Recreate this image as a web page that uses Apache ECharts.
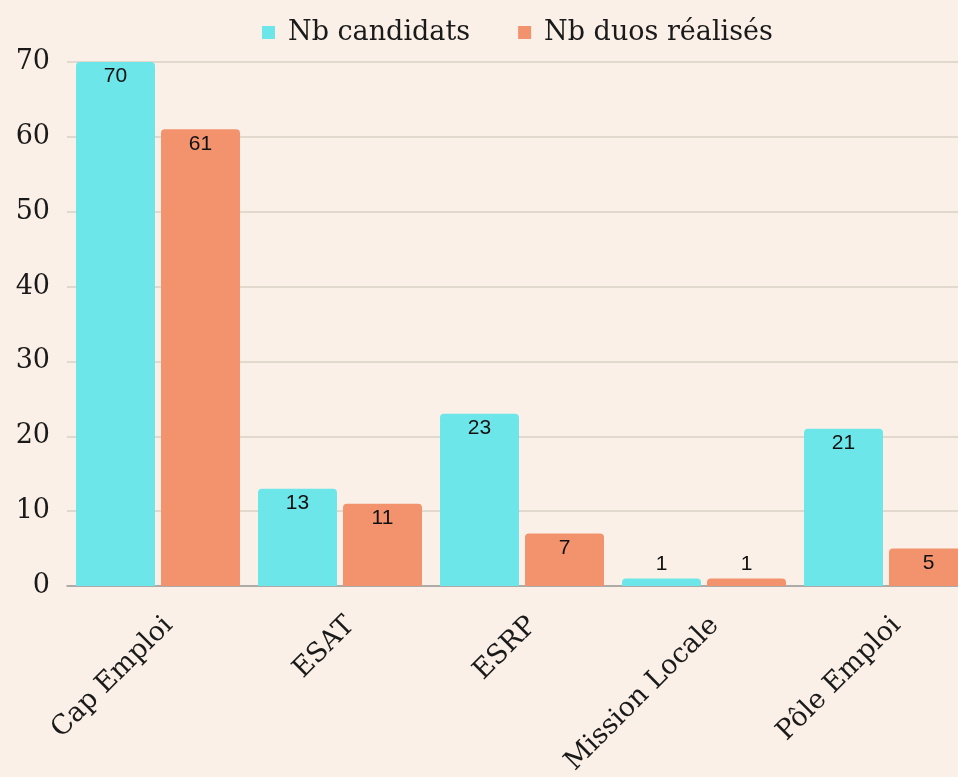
<!DOCTYPE html>
<html>
<head>
<meta charset="utf-8">
<script src="https://cdn.jsdelivr.net/npm/echarts@6/dist/echarts.min.js"></script>
<style>
  html, body { margin: 0; padding: 0; background: #faf0e7; }
  #chart { width: 958px; height: 777px; }
</style>
</head>
<body>
<div id="chart"></div>
<script>
// catégories et valeurs
const categories = ['Cap Emploi', 'ESAT', 'ESRP', 'Mission Locale', 'Pôle Emploi']
const candidats = [70, 13, 23, 1, 21]
const duos = [61, 11, 7, 1, 5]
const yTicks = [0, 10, 20, 30, 40, 50, 60, 70]

const serif = '"DejaVu Serif", "Liberation Serif", serif'
const sans = 'Arial, "Liberation Sans", sans-serif'

// petites barres : étiquette au-dessus
const withLabels = vals => vals.map(v => ({
  value: v,
  label: { position: v < 3 ? 'top' : 'insideTop' }
}))

const myChart = echarts.init(document.getElementById('chart'))
const option = {
  backgroundColor: '#faf0e7',
  animation: false,
  legend: {
    data: ['Nb candidats', 'Nb duos réalisés'],
    left: 257,
    top: 14,
    icon: 'rect',
    itemWidth: 13,
    itemHeight: 13,
    itemGap: 48,
    textStyle: { fontFamily: serif, fontSize: 27, color: '#1a1a1a', padding: [0, 0, 0, 8] }
  },
  grid: {
    left: 67,
    right: -19,
    top: 62,
    bottom: 191,
    outerBoundsMode: 'none'
  },
  xAxis: {
    type: 'category',
    data: categories,
    axisTick: { show: false },
    axisLine: { lineStyle: { color: '#9c9c9c', width: 1.5 } },
    axisLabel: {
      rotate: 45,
      margin: 46,
      padding: [0, -15, 0, 0],
      fontFamily: serif,
      fontSize: 27,
      color: '#1a1a1a'
    }
  },
  yAxis: {
    type: 'value',
    min: yTicks[0],
    max: yTicks[yTicks.length - 1],
    interval: 10,
    axisLine: { show: false },
    axisTick: { show: false },
    axisLabel: {
      margin: 17,
      fontFamily: serif,
      fontSize: 27,
      color: '#1a1a1a'
    },
    splitLine: { lineStyle: { color: '#d9d0c6', width: 1.5 } }
  },
  series: [
    {
      name: 'Nb candidats',
      type: 'bar',
      data: withLabels(candidats),
      barWidth: 79,
      barGap: '7.6%',
      itemStyle: { color: '#6ce6e8', borderRadius: [4, 4, 0, 0] },
      label: { show: true, distance: 4, fontFamily: sans, fontSize: 21, color: '#111' }
    },
    {
      name: 'Nb duos réalisés',
      type: 'bar',
      data: withLabels(duos),
      barWidth: 79,
      itemStyle: { color: '#f2936d', borderRadius: [4, 4, 0, 0] },
      label: { show: true, distance: 4, fontFamily: sans, fontSize: 21, color: '#111' }
    }
  ]
}
myChart.setOption(option)
</script>
</body>
</html>
